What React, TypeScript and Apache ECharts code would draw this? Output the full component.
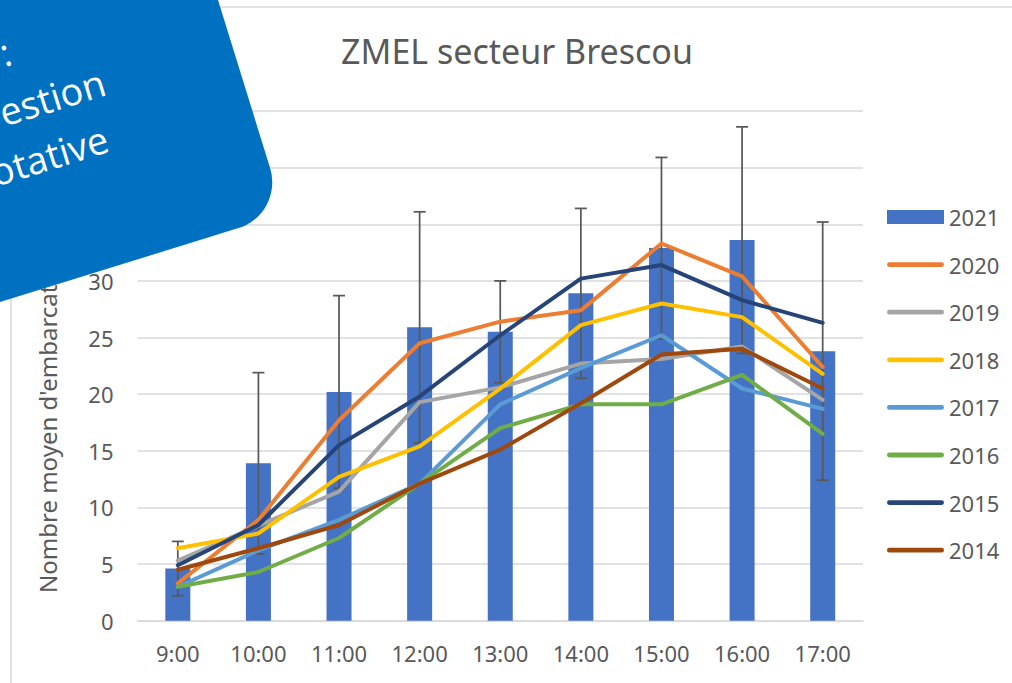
import React, { useEffect, useRef } from "react";
import * as echarts from "echarts";

const hours = ["9:00", "10:00", "11:00", "12:00", "13:00", "14:00", "15:00", "16:00", "17:00"];
const yTicks = { min: 0, max: 45, interval: 5 };

const y2021 = [4.6, 13.9, 20.2, 25.9, 25.5, 28.9, 32.9, 33.6, 23.8];
const err2021 = [2.4, 8.0, 8.5, 10.2, 4.5, 7.5, 8.0, 10.0, 11.4];
const y2020 = [3.3, 8.9, 17.7, 24.5, 26.4, 27.4, 33.3, 30.4, 22.4];
const y2019 = [5.3, 8.4, 11.4, 19.3, 20.6, 22.7, 23.1, 24.2, 19.5];
const y2018 = [6.4, 7.7, 12.7, 15.4, 20.5, 26.1, 28.0, 26.8, 21.8];
const y2017 = [3.0, 6.2, 8.9, 12.1, 19.1, 22.3, 25.2, 20.5, 18.7];
const y2016 = [3.0, 4.3, 7.3, 12.1, 17.0, 19.1, 19.1, 21.7, 16.5];
const y2015 = [4.9, 8.45, 15.5, 19.8, 25.2, 30.2, 31.4, 28.3, 26.3];
const y2014 = [4.5, 6.4, 8.45, 12.1, 15.1, 19.2, 23.5, 24.0, 20.5];

const lineSeries = [
  { name: "2020", data: y2020, color: "#ED7D31" },
  { name: "2019", data: y2019, color: "#A5A5A5" },
  { name: "2018", data: y2018, color: "#FFC000" },
  { name: "2017", data: y2017, color: "#5B9BD5" },
  { name: "2016", data: y2016, color: "#70AD47" },
  { name: "2015", data: y2015, color: "#264478" },
  { name: "2014", data: y2014, color: "#9E480E" },
];

const TITLE = "ZMEL secteur Brescou";
const Y_NAME = "Nombre moyen d'embarcations";
const BOX_LINES = [":", "estion", "otative"];

const TXT = "#595959";
const GRID = "#d9d9d9";
const FONT = "Noto Sans";
const LINE_ICON = "path://M2.5,0 L56.5,0 A2.5,2.5 0 0 1 56.5,5 L2.5,5 A2.5,2.5 0 0 1 2.5,0 Z";

export default function App() {
  const ref = useRef<HTMLDivElement>(null);

  useEffect(() => {
    if (!ref.current) return;
    const chart = echarts.init(ref.current, null, { renderer: "svg" });

    const theta = 0.3;
    const boxTextY = [-238, -181, -126];
    const boxTextX = [-214, -133, -147];

    const option: any = {
      animation: false,
      backgroundColor: "#ffffff",
      title: {
        text: TITLE,
        left: 512,
        top: 29,
        textAlign: "center",
        textStyle: { color: TXT, fontFamily: FONT, fontSize: 34, fontWeight: "normal" },
      },
      grid: { left: 137.5, right: 149, top: 111, bottom: 62.3, containLabel: false },
      legend: {
        orient: "vertical",
        left: 882,
        top: 201,
        itemWidth: 57,
        itemHeight: 14,
        itemGap: 25.6,
        itemStyle: { borderWidth: 0 },
        data: [
          { name: "2021", icon: "rect" },
          ...lineSeries.map((s) => ({ name: s.name, icon: LINE_ICON })),
        ],
        textStyle: { color: TXT, fontFamily: FONT, fontSize: 22, lineHeight: 22 },
      },
      xAxis: {
        type: "category",
        data: hours,
        axisLine: { show: true, lineStyle: { color: GRID, width: 1.5 } },
        axisTick: { show: false },
        axisLabel: { color: TXT, fontFamily: FONT, fontSize: 22, margin: 21 },
      },
      yAxis: {
        type: "value",
        min: yTicks.min,
        max: yTicks.max,
        interval: yTicks.interval,
        axisLine: { show: false },
        axisTick: { show: false },
        axisLabel: { color: TXT, fontFamily: FONT, fontSize: 22, margin: 24 },
        splitLine: { lineStyle: { color: GRID, width: 1.5 } },
      },
      series: [
        {
          name: "2021",
          type: "bar",
          data: y2021,
          barWidth: 25,
          itemStyle: { color: "#4472C4" },
          z: 1,
        },
        {
          name: "err2021",
          type: "custom",
          z: 2,
          encode: { x: 0, y: [1, 2] },
          data: hours.map((h, i) => [i, y2021[i] - err2021[i], y2021[i] + err2021[i]]),
          renderItem: (params: any, api: any) => {
            const i = api.value(0);
            const lo = api.coord([i, api.value(1)]);
            const hi = api.coord([i, api.value(2)]);
            const w = 6;
            const st = { stroke: "#595959", lineWidth: 1.75 };
            return {
              type: "group",
              children: [
                { type: "line", shape: { x1: lo[0], y1: lo[1], x2: hi[0], y2: hi[1] }, style: st },
                { type: "line", shape: { x1: lo[0] - w, y1: lo[1], x2: lo[0] + w, y2: lo[1] }, style: st },
                { type: "line", shape: { x1: hi[0] - w, y1: hi[1], x2: hi[0] + w, y2: hi[1] }, style: st },
              ],
            };
          },
        },
        ...lineSeries.map((s) => ({
          name: s.name,
          type: "line",
          data: s.data,
          symbol: "none",
          z: 3,
          itemStyle: { color: s.color },
          lineStyle: { color: s.color, width: 4, cap: "round", join: "round" },
        })),
      ],
      graphic: [
        {
          type: "rect",
          z: 0,
          shape: { x: 11, y: 7, width: 1200, height: 900 },
          style: { fill: "none", stroke: GRID, lineWidth: 1.5 },
          silent: true,
        },
        {
          type: "text",
          z: 5,
          x: 47,
          y: 593,
          rotation: Math.PI / 2,
          style: {
            text: Y_NAME,
            fill: TXT,
            font: `24px "${FONT}"`,
            textAlign: "left",
            textVerticalAlign: "middle",
          },
        },
        {
          type: "group",
          z: 100,
          x: 284.3,
          y: 213.9,
          rotation: theta,
          children: [
            {
              type: "rect",
              z: 100,
              shape: { x: -800, y: -700, width: 800, height: 700, r: 48 },
              style: { fill: "#0070C0" },
            },
            ...BOX_LINES.map((t, k) => ({
              type: "text",
              z: 101,
              x: boxTextX[k],
              y: boxTextY[k],
              style: {
                text: t,
                fill: "#ffffff",
                font: `38px "Open Sans"`,
                textAlign: "right",
                textVerticalAlign: "middle",
              },
            })),
          ],
        },
      ],
    };

    chart.setOption(option);
    return () => chart.dispose();
  }, []);

  return (
    <div
      ref={ref}
      style={{ position: "fixed", left: 0, top: 0, width: 1012, height: 683, background: "#fff" }}
    />
  );
}
